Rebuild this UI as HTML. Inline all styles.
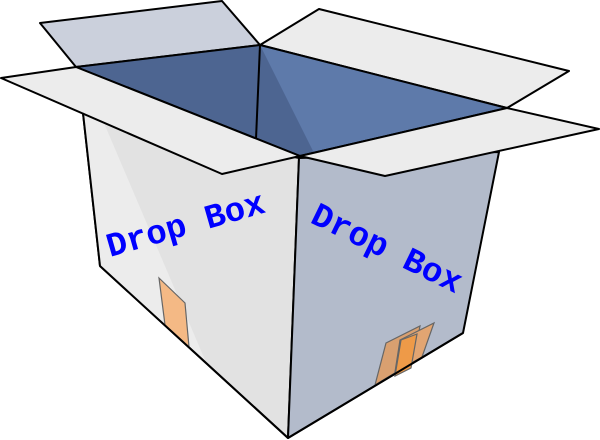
<!DOCTYPE html>
<html><head><style>
html,body{margin:0;padding:0;background:#fff;width:600px;height:440px;overflow:hidden}
</style></head><body>
<svg width="600" height="440" viewBox="0 0 600 440" xmlns="http://www.w3.org/2000/svg">
<g stroke="#000" stroke-width="2" stroke-linejoin="round">
<polygon points="40,23 222,1 260,45 76,67" fill="#cbd0dc"/>
<polygon points="260,45 319,9 569,71 507,108" fill="#ececec"/>
<polygon points="76,67 260,45 507,108 300,156" fill="#4d6591" stroke="none"/>
<polygon points="260,45 507,108 314,153" fill="#5e7aaa" stroke="none"/>
<polygon points="76,67 260,45 507,108 300,156" fill="none"/>
<line x1="260" y1="45" x2="256" y2="139"/>
<polygon points="83,113 299,158 288,438 100,266" fill="#e2e2e2"/>
<polygon points="83,113 101,116 205,360 100,266" fill="#ececec" stroke="none"/>
<polygon points="299,158 499,152 463,333 288,438" fill="#b3bbcb"/>
<polygon points="1,78 76,67 300,156 222,174" fill="#ececec"/>
<polygon points="300,156 507,108 599,129 385,176" fill="#ececec"/>
</g>
<g stroke="#666" stroke-width="1.2">
<polygon points="159,278 185,303 189,347 165,325" fill="#f4b985"/>
<polygon points="386,343 420,326 413,362 375,385" fill="#d9a070"/>
<polygon points="400,340 434,323 422,357 395,372" fill="#e2a572"/>
<polygon points="401,340 417,334 411,368 395,376" fill="#ee9a48"/>
</g>
<line x1="100" y1="266" x2="288" y2="438" stroke="#000" stroke-width="2"/>
<line x1="288" y1="438" x2="463" y2="333" stroke="#000" stroke-width="2"/>
<line x1="83" y1="113" x2="100" y2="266" stroke="#000" stroke-width="2"/>
<g font-family="Liberation Mono, monospace" font-weight="bold" font-size="34" fill="#0000ff">
<text transform="translate(110,257) rotate(-16)">Drop Box</text>
<text transform="translate(309,222) rotate(26)">Drop Box</text>
</g>
</svg>
</body></html>
